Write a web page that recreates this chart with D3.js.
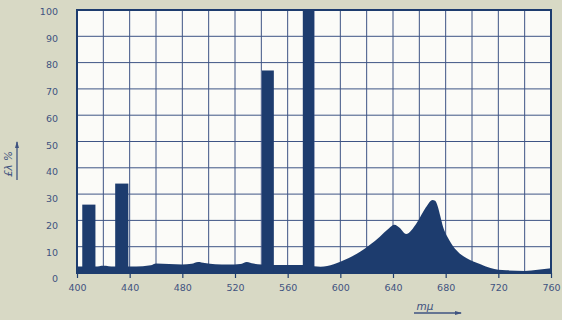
<!DOCTYPE html>
<html><head><meta charset="utf-8">
<script src="https://cdn.jsdelivr.net/npm/d3@7"></script>
<style>
html,body{margin:0;padding:0;background:#d8d9c5;}
svg{display:block;}
</style></head>
<body>
<svg id="c" width="562" height="320"></svg>
<script>
// Line spectrum bars: [start nm, end nm, relative energy %]
const lineStart = [404, 429, 540.5, 571.5];
const lineEnd   = [414, 439, 549.5, 580];
const lineValue = [26, 34, 77, 100];

// Continuum (wavelength in nm, relative energy %)
const contWave = [400,404,414,420,428,440,450,456,460,470,480,487,492,497,505,515,524,529,534,540,550,560,570,580,585,590,600,615,630,637,641,645,650,658,665,670,672,674,676,678,680,683,688,696,706,714,726,740,750,760];
const contValue = [2.5,2.5,2.5,2.8,2.5,2.5,2.6,2.9,3.6,3.4,3.2,3.5,4.2,3.8,3.3,3.2,3.4,4.2,3.6,3.2,3.0,3.0,3.0,2.6,2.4,2.7,4.3,8.1,13.8,17,18.3,17.2,14.8,19,25,27.8,27.5,25.3,21.5,17.6,15,12.3,8.7,5.6,3.4,1.9,1.0,0.8,1.2,1.8];

const xTicks = [400,440,480,520,560,600,640,680,720,760];
const yTicks = [0,10,20,30,40,50,60,70,80,90,100];
const xGrid = d3.range(400, 761, 20);

const navy = "#1d3c6e";
const txt = "#3f5380";
const font = "'DejaVu Sans','Liberation Sans',Arial,sans-serif";
const svg = d3.select("#c");
const L = 77, R = 551, T = 10, B = 273;
const x = d3.scaleLinear().domain([400,760]).range([L,R]);
const y = d3.scaleLinear().domain([0,100]).range([B,T]);

// plot background
svg.append("rect").attr("x",L).attr("y",T).attr("width",R-L).attr("height",B-T).attr("fill","#fbfbf8");

// grid
svg.append("g").selectAll("line").data(xGrid).join("line")
  .attr("x1",d=>x(d)).attr("x2",d=>x(d)).attr("y1",T).attr("y2",B)
  .attr("stroke","#3e5485").attr("stroke-width",1);
svg.append("g").selectAll("line").data(yTicks).join("line")
  .attr("y1",d=>y(d)).attr("y2",d=>y(d)).attr("x1",L).attr("x2",R)
  .attr("stroke","#3e5485").attr("stroke-width",1);

// continuum area
const cont = contWave.map((w,i)=>({w, v:contValue[i]}));
svg.append("path").datum(cont)
  .attr("d", d3.area().x(d=>x(d.w)).y0(y(0)).y1(d=>y(d.v)).curve(d3.curveMonotoneX))
  .attr("fill", navy);

// line bars
svg.append("g").selectAll("rect").data(lineValue).join("rect")
  .attr("x",(d,i)=>x(lineStart[i])).attr("width",(d,i)=>x(lineEnd[i])-x(lineStart[i]))
  .attr("y",d=>y(d)).attr("height",d=>y(0)-y(d))
  .attr("fill", navy);

// frame
svg.append("rect").attr("x",L).attr("y",T).attr("width",R-L).attr("height",B-T)
  .attr("fill","none").attr("stroke",navy).attr("stroke-width",2);

// x axis
const xAxis = d3.axisBottom(x).tickValues(xTicks).tickSize(5).tickPadding(6).tickFormat(d3.format("d"));
const gx = svg.append("g").attr("transform",`translate(0,${B})`).call(xAxis);
gx.select(".domain").remove();
gx.selectAll(".tick line").attr("stroke",navy).attr("stroke-width",1.2);
gx.selectAll("text").attr("fill",txt).attr("font-family",font).attr("font-size",9.5);

// y axis
const yAxis = d3.axisLeft(y).tickValues(yTicks).tickSize(0).tickPadding(19);
const gy = svg.append("g").attr("transform",`translate(${L},0)`).call(yAxis);
gy.select(".domain").remove();
gy.selectAll(".tick text").attr("fill",txt).attr("font-family",font).attr("font-size",9.5)
  .attr("dy",(d)=> (0.32 + d3.scaleLinear().domain([0,100]).range([0.6,0.15])(d)) + "em");

// y title
const yt = svg.append("g").attr("transform","translate(12,164) rotate(-90)");
yt.append("text").attr("text-anchor","middle").attr("fill",txt)
  .attr("font-family",font).attr("font-size",10.5).attr("font-style","italic")
  .text("£λ %");
yt.append("line").attr("x1",-16).attr("x2",22).attr("y1",5).attr("y2",5).attr("stroke",txt).attr("stroke-width",1.3);
yt.append("path").attr("d","M23,5 L16,3 L16,7 Z").attr("fill",txt);

// x title
const xt = svg.append("g").attr("transform","translate(425,310)");
xt.append("text").attr("text-anchor","middle").attr("fill",txt)
  .attr("font-family",font).attr("font-size",10.5).attr("font-style","italic")
  .text("mμ");
xt.append("line").attr("x1",-11).attr("x2",36).attr("y1",3).attr("y2",3).attr("stroke",txt).attr("stroke-width",1.3);
xt.append("path").attr("d","M37,3 L30,1 L30,5 Z").attr("fill",txt);
</script>
</body></html>
